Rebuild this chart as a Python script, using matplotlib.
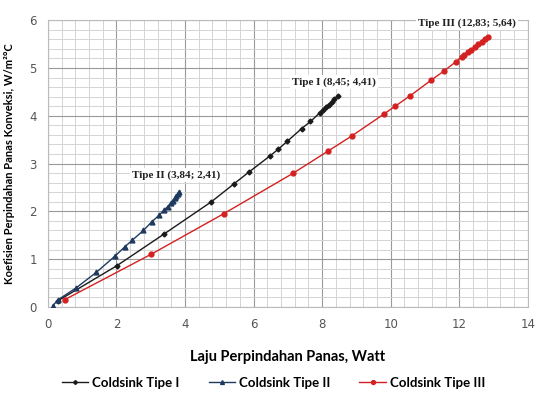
import matplotlib
matplotlib.use("Agg", force=True)
import matplotlib.pyplot as plt
from matplotlib.ticker import MultipleLocator

# Coldsink Tipe I
x_tipe1 = [0.30, 2.01, 3.40, 4.77, 5.42, 5.88, 6.48, 6.72, 6.99, 7.40, 7.66, 7.93,
           8.03, 8.12, 8.20, 8.28, 8.36, 8.45]
y_tipe1 = [0.13, 0.86, 1.53, 2.20, 2.57, 2.83, 3.16, 3.30, 3.47, 3.73, 3.88, 4.06,
           4.12, 4.18, 4.23, 4.29, 4.35, 4.41]

# Coldsink Tipe II
x_tipe2 = [0.14, 0.30, 0.83, 1.41, 1.97, 2.25, 2.47, 2.79, 3.03, 3.25, 3.39, 3.50,
           3.58, 3.64, 3.70, 3.75, 3.80, 3.84]
y_tipe2 = [0.02, 0.15, 0.40, 0.72, 1.07, 1.26, 1.40, 1.60, 1.78, 1.92, 2.03, 2.10,
           2.17, 2.22, 2.27, 2.32, 2.37, 2.41]

# Coldsink Tipe III
x_tipe3 = [0.49, 3.01, 5.13, 7.16, 8.17, 8.87, 9.79, 10.13, 10.57, 11.17, 11.56, 11.90,
           12.07, 12.15, 12.25, 12.35, 12.45, 12.55, 12.65, 12.75, 12.83]
y_tipe3 = [0.15, 1.10, 1.95, 2.80, 3.26, 3.58, 4.03, 4.20, 4.42, 4.74, 4.94, 5.13,
           5.24, 5.28, 5.33, 5.38, 5.44, 5.50, 5.55, 5.60, 5.64]

annotations = [
    ("Tipe II (3,84; 2,41)", 3.74, 2.76),
    ("Tipe I (8,45; 4,41)", 8.35, 4.71),
    ("Tipe III (12,83; 5,64)", 12.23, 5.94),
]

fig = plt.figure(figsize=(5.37, 3.96), dpi=100)
ax = fig.add_axes([0.089, 0.225, 0.894, 0.724])

ax.plot(x_tipe1, y_tipe1, color="#1a1a1a", lw=1.0, marker="D", ms=2.5,
        label="Coldsink Tipe I", zorder=3)
ax.plot(x_tipe2, y_tipe2, color="#1f3a5f", lw=1.0, marker="^", ms=3.5,
        label="Coldsink Tipe II", zorder=3)
ax.plot(x_tipe3, y_tipe3, color="#d42020", lw=1.0, marker="o", ms=3.5,
        label="Coldsink Tipe III", zorder=3)

for txt, tx, ty in annotations:
    ax.text(tx, ty, txt, ha="center", va="center", fontsize=8,
            fontweight="bold", family="Liberation Serif", color="#222222",
            bbox=dict(facecolor="white", edgecolor="none", pad=1.5), zorder=4)

ax.set_xlim(0, 14)
ax.set_ylim(0, 6)
ax.xaxis.set_major_locator(MultipleLocator(2))
ax.xaxis.set_minor_locator(MultipleLocator(0.4))
ax.yaxis.set_major_locator(MultipleLocator(1))
ax.yaxis.set_minor_locator(MultipleLocator(0.2))
ax.grid(which="major", color="#9a9a9a", lw=0.8)
ax.grid(which="minor", color="#d4d4d4", lw=0.7)
ax.set_axisbelow(True)
ax.tick_params(which="both", length=0, labelsize=8.5, labelcolor="#555555", pad=8)
for s in ax.spines.values():
    s.set_color("#bbbbbb")
    s.set_linewidth(0.8)

ax.set_xlabel("Laju Perpindahan Panas, Watt", fontsize=10.5, fontweight="bold",
              family="Lato", labelpad=14)
ax.set_ylabel("Koefisien Perpindahan Panas Konveksi, W/m²°C", fontsize=8,
              fontweight="bold", family="Lato", labelpad=10)

ax.legend(loc="center", bbox_to_anchor=(0.47, -0.265), ncol=3, frameon=False,
          prop=dict(family="Lato", weight="bold", size=9.5), handlelength=2.0,
          columnspacing=2.2, handletextpad=0.3, markerscale=0.8)

fig.savefig("out.png", dpi=100)
